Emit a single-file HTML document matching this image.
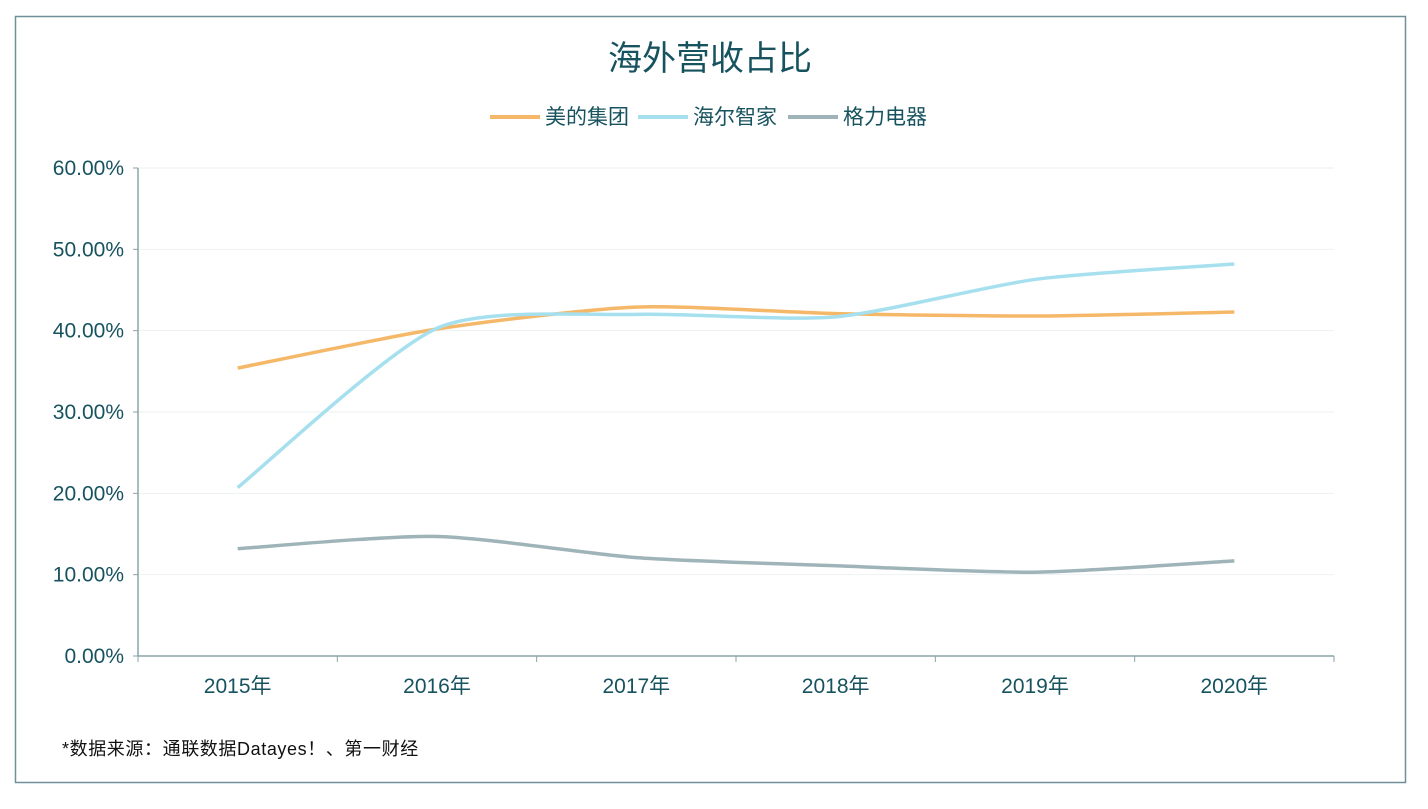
<!DOCTYPE html>
<html><head><meta charset="utf-8"><style>
body{margin:0;background:#fff;width:1428px;height:804px;overflow:hidden;font-family:"Liberation Sans","Noto Sans CJK SC",sans-serif}
svg text{font-family:"Liberation Sans","Noto Sans CJK SC",sans-serif}
</style></head><body>
<svg id="c" width="1428" height="804">
<rect x="15.5" y="16.5" width="1390" height="766" fill="#fff" stroke="#6f8f99" stroke-width="1.5"/>
<text x="710" y="70" text-anchor="middle" font-size="34" fill="#17535f">海外营收占比</text>
<g id="legend"></g>
<g id="grid"></g><g id="axes"></g><g id="series"></g>
<text x="62" y="755" font-size="18" fill="#111" letter-spacing="0.6">*数据来源：通联数据Datayes！、第一财经</text>
</svg>
<script>
const categories=["2015年","2016年","2017年","2018年","2019年","2020年"];
const names=["美的集团","海尔智家","格力电器"];
const colors=["#f5b868","#a6e0ee","#9fb4b9"];
const midea=[35.4,40.2,42.9,42.1,41.8,42.3];
const haier=[20.7,40.3,42.0,41.7,46.3,48.2];
const gree=[13.2,14.7,12.1,11.1,10.3,11.7];
const yTicks=[0,10,20,30,40,50,60];
const series=[midea,haier,gree];
const NS="http://www.w3.org/2000/svg";
const X0=138,X1=1334,Y0=656,Y1=168;
const band=(X1-X0)/categories.length;
const x=i=>X0+band*(i+0.5);
const y=v=>Y0-(v/60)*(Y0-Y1);
function mk(t,a,p){const e=document.createElementNS(NS,t);for(const k in a)e.setAttribute(k,a[k]);(p||document.getElementById('c')).appendChild(e);return e;}
const grid=document.getElementById('grid'),axes=document.getElementById('axes'),sg=document.getElementById('series'),lg=document.getElementById('legend');
yTicks.forEach(t=>{
 if(t>0){const g=mk('line',{x1:X0,x2:X1,y1:y(t),y2:y(t),stroke:'#eef1f2'},grid);
 
 }
 const l=mk('text',{x:124,y:y(t)+7,'text-anchor':'end','font-size':21,fill:'#17535f'},axes);
 l.textContent=t.toFixed(2)+'%';
 
 
 const tk=mk('line',{x1:X0-5,x2:X0,y1:y(t),y2:y(t),stroke:'#8aa3aa'},axes);
 
 
});
const ya=mk('line',{x1:X0,x2:X0,y1:Y1,y2:Y0,stroke:'#8aa3aa','stroke-width':1.5},axes);


const xa=mk('line',{x1:X0,x2:X1,y1:Y0,y2:Y0,stroke:'#8aa3aa','stroke-width':1.5},axes);


for(let i=0;i<=categories.length;i++){const tk=mk('line',{x1:X0+band*i,x2:X0+band*i,y1:Y0,y2:Y0+6,stroke:'#8aa3aa'},axes);
 
 }
categories.forEach((c,i)=>{const t=mk('text',{x:x(i),y:693,'text-anchor':'middle','font-size':21,fill:'#17535f'},axes);t.textContent=c;
 
 });
function path(vals){const p=vals.map((v,i)=>[x(i),y(v)]);let d='M'+p[0][0]+','+p[0][1];
 for(let i=0;i<p.length-1;i++){const p0=p[i-1]||p[i],p1=p[i],p2=p[i+1],p3=p[i+2]||p2;const s=0.12;
 d+=` C${p1[0]+(p2[0]-p0[0])*s},${p1[1]+(p2[1]-p0[1])*s} ${p2[0]-(p3[0]-p1[0])*s},${p2[1]-(p3[1]-p1[1])*s} ${p2[0]},${p2[1]}`;}return d;}
series.forEach((s,k)=>{const e=mk('path',{d:path(s),fill:'none',stroke:colors[k],'stroke-width':3.5},sg);
 
 });
const lx=[490,638,788];
names.forEach((n,k)=>{const l=mk('line',{x1:lx[k],x2:lx[k]+50,y1:117,y2:117,stroke:colors[k],'stroke-width':4},lg);
 
 
 const t=mk('text',{x:lx[k]+55,y:124,'font-size':21,fill:'#17535f'},lg);t.textContent=n;
 
 });
</script>
</body></html>
